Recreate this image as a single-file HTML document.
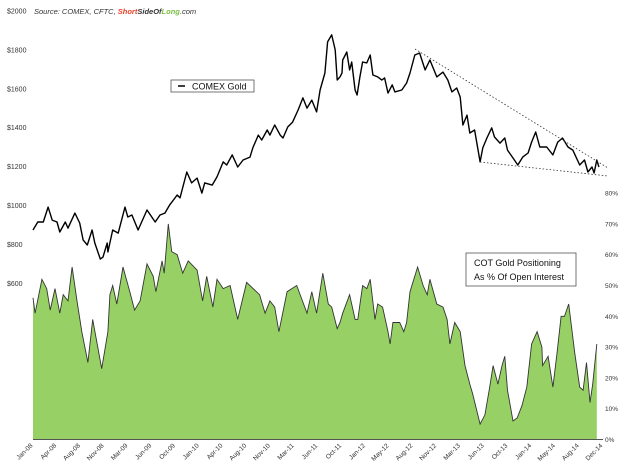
<!DOCTYPE html>
<html><head><meta charset="utf-8"><style>
body{margin:0;background:#fff;font-family:"Liberation Sans",sans-serif}
svg text{font-family:"Liberation Sans",sans-serif}
</style></head><body>
<svg id="c" width="625" height="471" xmlns="http://www.w3.org/2000/svg">
<text x="34" y="14" font-size="7.5" font-style="italic" fill="#333">Source: COMEX, CFTC, <tspan fill="#e8412c" font-weight="bold">Short</tspan><tspan font-weight="bold">SideOf</tspan><tspan fill="#7ac143" font-weight="bold">Long</tspan>.com</text>
<g id="area"></g>
<g id="gold"></g>
<g id="axes"></g>
<line x1="415" y1="49" x2="608" y2="168" stroke="#333" stroke-width="0.8" stroke-dasharray="1.5,2"/>
<line x1="480" y1="162" x2="608" y2="176" stroke="#333" stroke-width="0.8" stroke-dasharray="1.5,2"/>
<g>
<rect x="171" y="80" width="83" height="12" fill="#fff" stroke="#555" stroke-width="0.8"/>
<line x1="178" y1="86" x2="185" y2="86" stroke="#000" stroke-width="1.5"/>
<text x="192" y="89.5" font-size="9" fill="#111">COMEX Gold</text>
</g>
<g>
<rect x="466" y="253" width="110" height="33" fill="#fff" stroke="#555" stroke-width="0.8"/>
<text x="474" y="266" font-size="9" fill="#111">COT Gold Positioning</text>
<text x="474" y="280" font-size="9" fill="#111">As % Of Open Interest</text>
</g>
</svg>
<script>
const months=["Jan-08","Apr-08","Aug-08","Nov-08","Mar-09","Jun-09","Oct-09","Jan-10","Apr-10","Aug-10","Nov-10","Mar-11","Jun-11","Oct-11","Jan-12","May-12","Aug-12","Nov-12","Mar-13","Jun-13","Oct-13","Jan-14","May-14","Aug-14","Dec-14"];
const goldT=[0,0.7,1.5,2.2,2.8,3.5,3.9,4.7,5.1,6.1,6.8,7.3,7.9,8.6,9.0,9.8,10.2,10.8,10.9,11.6,12.4,13.4,13.8,14.4,15.3,16.6,17.8,18.5,19.2,19.9,21.0,21.4,22.4,23.1,23.9,24.6,25.0,26.1,26.8,27.7,28.2,29.0,29.8,30.6,31.6,32.0,32.8,33.3,34.1,34.5,35.2,36.0,36.4,37.1,37.8,38.6,39.3,39.9,40.6,41.3,41.8,42.5,42.9,43.5,44.0,44.3,44.7,45.0,45.1,45.7,46.1,46.4,46.9,47.2,47.6,48.0,48.6,49.1,49.5,50.2,50.8,51.2,51.7,52.3,52.7,53.7,54.4,54.9,55.6,56.3,57.1,57.8,58.8,59.7,60.4,61.0,61.7,62.2,62.6,63.2,63.6,64.3,65.1,65.5,66.1,66.8,67.2,68.0,68.7,69.1,69.9,70.6,71.3,72.1,72.6,73.2,73.8,74.8,75.7,76.4,77.1,77.9,78.6,79.6,80.3,80.8,81.4,81.7,82.1,82.4];
const gold=[874,915,915,992,925,915,864,915,884,961,910,823,797,874,807,725,735,807,761,874,858,992,941,951,874,977,915,951,961,1003,1054,1039,1172,1116,1141,1064,1116,1105,1147,1224,1208,1260,1198,1234,1249,1296,1362,1337,1388,1362,1414,1362,1347,1404,1429,1491,1553,1501,1542,1481,1594,1681,1841,1877,1800,1645,1661,1681,1748,1789,1697,1738,1594,1568,1661,1738,1733,1774,1671,1661,1645,1656,1578,1620,1584,1594,1630,1681,1774,1784,1697,1748,1661,1686,1645,1584,1604,1558,1414,1465,1373,1388,1224,1296,1347,1399,1352,1321,1347,1285,1244,1208,1249,1270,1326,1378,1301,1301,1260,1326,1347,1301,1285,1208,1234,1172,1198,1167,1234,1198];
const cotT=[0,0.3,1.3,2.0,2.5,3.2,3.9,4.4,5.1,5.7,6.4,7.1,8.0,8.7,10.0,10.9,11.2,11.6,12.2,13.1,14.1,14.8,15.6,16.6,17.5,17.9,18.8,19.1,19.7,20.2,21.0,21.8,22.6,23.9,24.7,25.3,26.2,26.8,27.7,28.7,29.8,31.1,33.0,33.8,34.5,35.2,35.8,37.0,38.4,39.9,40.6,41.3,42.2,43.0,43.5,44.3,44.7,45.1,46.1,46.9,47.3,48.0,48.6,49.1,49.8,50.2,50.9,51.7,52.0,52.4,53.4,54.0,54.4,54.9,56.0,56.8,57.4,57.8,58.8,59.7,60.3,60.7,61.4,62.2,62.9,63.6,64.0,65.1,65.8,66.5,67.0,67.7,68.3,68.7,69.1,69.9,70.5,71.2,71.9,72.6,73.4,74.1,74.2,75.0,75.7,76.3,76.9,77.4,78.0,78.9,79.6,80.1,80.6,81.1,81.5,82.1];
const cot=[46,41,52,49,42,49,41,47,45,56,45,35,25,39,23,35,47,50,44,56,48,42,45,57,53,48,58,54,70,61,60,54,58,55,45,53,43,52,49,50,39,51,47,41,45,43,35,48,50,41,48,41,54,44,43,36,38,41,47,39,39,50,49,52,39,44,43,35,31,38,38,35,38,48,56,50,47,52,44,43,39,31,38,35,24,18,15,5,8,17,24,18,24,27,16,6,7,11,17,31,35,30,24,27,17,28,40,40,44,28,17,16,25,12,18,31];
const priceTicks=[2000,1800,1600,1400,1200,1000,800,600];
const pctTicks=[0,10,20,30,40,50,60,70,80];
const ns="http://www.w3.org/2000/svg";
const X0=33,X1=603,SPAN=83;
const xm=m=>X0+m*(X1-X0)/SPAN;
const yP=p=>11+(2000-p)/200*38.9;
const yC=v=>439.5-v*3.08;
function mk(tag,attrs,parent){const e=document.createElementNS(ns,tag);for(const k in attrs)e.setAttribute(k,attrs[k]);parent.appendChild(e);return e;}
const area=document.getElementById('area'),gg=document.getElementById('gold'),ax=document.getElementById('axes');
const cotPts=cot.map((v,i)=>xm(cotT[i]).toFixed(1)+","+yC(v).toFixed(1));
let d="M"+xm(cotT[0]).toFixed(1)+","+yC(0)+" L"+cotPts.join(" L")+" L"+xm(cotT[cotT.length-1]).toFixed(1)+","+yC(0)+"Z";
const a=mk('path',{d:d,fill:'#97d165',stroke:'none'},area);


const al=mk('path',{d:"M"+cotPts.join(" L"),fill:'none',stroke:'#333',"stroke-width":0.9},area);


const gl=mk('path',{d:"M"+gold.map((v,i)=>xm(goldT[i]).toFixed(1)+","+yP(v).toFixed(1)).join(" L"),fill:'none',stroke:'#000',"stroke-width":1.4,"stroke-linejoin":"round"},gg);


const base=mk('line',{x1:X0,y1:439.5,x2:X1,y2:439.5,stroke:'#555',"stroke-width":1},ax);


priceTicks.forEach(p=>{const t=mk('text',{x:7,y:yP(p)+2.5,"font-size":7,fill:'#333'},ax);t.textContent="$"+p;

});
pctTicks.forEach(v=>{const t=mk('text',{x:605,y:yC(v)+2.5,"font-size":6.5,fill:'#333'},ax);t.textContent=v+"%";

});
months.forEach((m,i)=>{const x=X0+i*(X1-X0)/(months.length-1);const t=mk('text',{x:x,y:446,"font-size":6.5,fill:'#333',"text-anchor":'end',transform:`rotate(-45 ${x} 446)`},ax);t.textContent=m;

});
</script>
</body></html>
